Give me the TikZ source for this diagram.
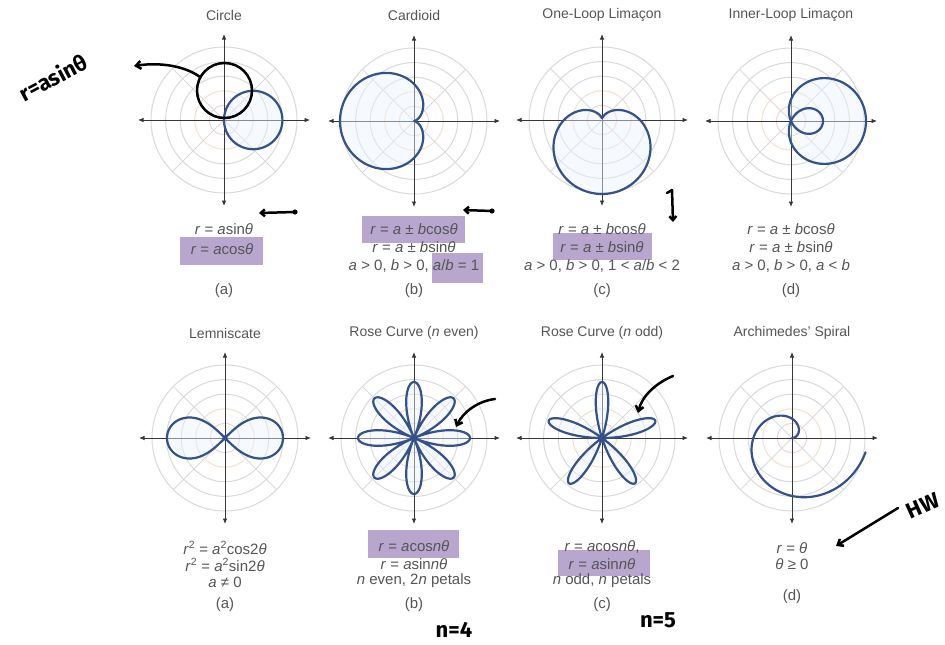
\documentclass[tikz,border=0pt]{standalone}
\usepackage{fontspec}
\setmainfont{Liberation Sans}
\newfontfamily\handfont{Fira Sans}
\usetikzlibrary{arrows.meta}

\definecolor{curveblue}{RGB}{52,82,138}
\definecolor{petalfill}{RGB}{236,242,252}
\definecolor{gridgray}{RGB}{218,218,220}
\definecolor{gridpink}{RGB}{238,214,214}
\definecolor{gridpeach}{RGB}{240,226,208}
\definecolor{axisgray}{RGB}{55,55,55}
\definecolor{labelgray}{RGB}{85,85,85}
\definecolor{hilite}{RGB}{184,166,206}

\tikzset{
  polargrid/.pic={
    \draw[gridpink,line width=1] (0,0) circle[radius=14.6];
    \draw[gridpeach,line width=1] (0,0) circle[radius=29.2];
    \foreach \k in {3,4,5}
      \draw[gridgray,line width=1] (0,0) circle[radius=14.6*\k];
    \foreach \a in {45,135,225,315}
      \draw[gridgray,line width=1] (0,0) -- (\a:73);
    \draw[axisgray,line width=0.8,{Latex[length=5.5pt,width=4.5pt]}-{Latex[length=5.5pt,width=4.5pt]}] (-86,0) -- (86,0);
    \draw[axisgray,line width=0.8,{Latex[length=5.5pt,width=4.5pt]}-{Latex[length=5.5pt,width=4.5pt]}] (0,-86) -- (0,86);
  },
  curve/.style={curveblue,line width=2.2,line join=round,fill=petalfill,fill opacity=0.45,draw opacity=1},
  openCurve/.style={curveblue,line width=2.2,line join=round,line cap=round},
  title/.style={text=labelgray,font=\fontsize{14}{16}\selectfont,inner sep=0},
  eqn/.style={text=labelgray,font=\fontsize{15}{17}\selectfont,inner sep=0},
  mark box/.style={fill=hilite,draw=none},
  ink/.style={black,line width=2.5,line cap=round,line join=round},
  inktext/.style={text=black,font=\fontsize{22}{22}\handfont\bfseries,inner sep=0},
  barb/.style={-{Straight Barb[length=5pt,width=8pt]}},
}

\begin{document}
\begin{tikzpicture}[x=1pt,y=-1pt]
\useasboundingbox (0,0) rectangle (945,645);
\fill[white] (0,0) rectangle (945,645);

% ---------- top row: circle, cardioid, limaçons ----------
\begin{scope}[shift={(224,120)},yscale=-1]
  \pic {polargrid};
  \draw[curve] plot[domain=0:180,samples=180,smooth] (\x:{58.4*cos(\x)}) -- cycle;
\end{scope}

\begin{scope}[shift={(414,121)},yscale=-1]
  \pic {polargrid};
  \draw[curve] plot[domain=0:360,samples=240,smooth] (\x:{37*(1-cos(\x))}) -- cycle;
\end{scope}

\begin{scope}[shift={(602,120)},yscale=-1]
  \pic {polargrid};
  \draw[curve] plot[domain=0:360,samples=240,smooth] (\x:{38-36*sin(\x)}) -- cycle;
\end{scope}

\begin{scope}[shift={(791,121)},yscale=-1]
  \pic {polargrid};
  \draw[curve] plot[domain=0:360,samples=300,smooth] (\x:{21.5+53.5*cos(\x)}) -- cycle;
\end{scope}

% ---------- bottom row: lemniscate, roses, spiral ----------
\begin{scope}[shift={(225,438)},yscale=-1]
  \pic {polargrid};
  \draw[curve] plot[domain=0:360,samples=240,smooth]
    ({58*cos(\x)/(1+sin(\x)*sin(\x))},{58*sin(\x)*cos(\x)/(1+sin(\x)*sin(\x))}) -- cycle;
  \fill[curveblue] (0,0) circle[radius=2.6];
\end{scope}

\begin{scope}[shift={(414,438)},yscale=-1]
  \pic {polargrid};
  \draw[curve] plot[domain=0:360,samples=480,smooth] (\x:{56*cos(4*\x)}) -- cycle;
  \fill[curveblue] (0,0) circle[radius=3];
\end{scope}

\begin{scope}[shift={(602,438)},yscale=-1]
  \pic {polargrid};
  \draw[curve] plot[domain=0:180,samples=361,smooth] (\x:{56*sin(5*\x)}) -- cycle;
  \fill[curveblue] (0,0) circle[radius=3];
\end{scope}

\begin{scope}[shift={(792,438)},yscale=-1]
  \pic {polargrid};
  \draw[openCurve] plot[domain=0:349,samples=240,smooth] (\x:{12.3*\x*pi/180});
\end{scope}

% ---------- highlighter marks ----------
\fill[mark box] (180,237) rectangle (263,265);
\fill[mark box] (362,216) rectangle (465,243);
\fill[mark box] (432,253) rectangle (483,283);
\fill[mark box] (553,233) rectangle (652,260);
\fill[mark box] (368,530) rectangle (459,558);
\fill[mark box] (558,550) rectangle (650,576);

% ---------- titles ----------
\node[title] (t1) at (224,15) {Circle};
\node[title] (t2) at (414,15) {Cardioid};
\node[title] (t3) at (602,15) {One-Loop Limaçon};
\node[title] (t4) at (791,15) {Inner-Loop Limaçon};
\node[title] (t5) at (225,333) {Lemniscate};
\node[title] (t6) at (414,333) {Rose Curve (\textit{n} even)};
\node[title] (t7) at (602,333) {Rose Curve (\textit{n} odd)};
\node[title] (t8) at (792,333) {Archimedes' Spiral};

% ---------- equations, top row ----------
\node[eqn] (e11) at (224,229) {\textit{r} = \textit{a}sin\textit{θ}};
\node[eqn] (e12) at (222,249) {\textit{r} = \textit{a}cos\textit{θ}};
\node[eqn] (l1) at (224,291) {(a)};

\node[eqn] (e21) at (414,229) {\textit{r} = \textit{a} ± \textit{b}cos\textit{θ}};
\node[eqn] (e22) at (414,247) {\textit{r} = \textit{a} ± \textit{b}sin\textit{θ}};
\node[eqn] (e23) at (414,266) {\textit{a} > 0, \textit{b} > 0, \textit{a}/\textit{b} = 1};
\node[eqn] (l2) at (414,291) {(b)};

\node[eqn] (e31) at (602,229) {\textit{r} = \textit{a} ± \textit{b}cos\textit{θ}};
\node[eqn] (e32) at (602,247) {\textit{r} = \textit{a} ± \textit{b}sin\textit{θ}};
\node[eqn] (e33) at (602,266) {\textit{a} > 0, \textit{b} > 0, 1 < \textit{a}/\textit{b} < 2};
\node[eqn] (l3) at (602,291) {(c)};

\node[eqn] (e41) at (791,229) {\textit{r} = \textit{a} ± \textit{b}cos\textit{θ}};
\node[eqn] (e42) at (791,247) {\textit{r} = \textit{a} ± \textit{b}sin\textit{θ}};
\node[eqn] (e43) at (791,266) {\textit{a} > 0, \textit{b} > 0, \textit{a} < \textit{b}};
\node[eqn] (l4) at (791,291) {(d)};

% ---------- equations, bottom row ----------
\node[eqn] (e51) at (225,548) {\textit{r}\textsuperscript{2} = \textit{a}\textsuperscript{2}cos2\textit{θ}};
\node[eqn] (e52) at (225,565) {\textit{r}\textsuperscript{2} = \textit{a}\textsuperscript{2}sin2\textit{θ}};
\node[eqn] (e53) at (225,582) {\textit{a} ≠ 0};
\node[eqn] (l5) at (225,605) {(a)};

\node[eqn] (e61) at (414,546) {\textit{r} = \textit{a}cos\textit{nθ}};
\node[eqn] (e62) at (414,564) {\textit{r} = \textit{a}sin\textit{nθ}};
\node[eqn] (e63) at (414,581) {\textit{n} even, 2\textit{n} petals};
\node[eqn] (l6) at (414,605) {(b)};

\node[eqn] (e71) at (602,547) {\textit{r} = \textit{a}cos\textit{nθ},};
\node[eqn] (e72) at (602,564) {\textit{r} = \textit{a}sin\textit{nθ}};
\node[eqn] (e73) at (602,581) {\textit{n} odd, \textit{n} petals};
\node[eqn] (l7) at (602,605) {(c)};

\node[eqn] (e81) at (792,548) {\textit{r} = \textit{θ}};
\node[eqn] (e82) at (792,564) {\textit{θ} ≥ 0};
\node[eqn] (l8) at (792,597) {(d)};

% ---------- pen annotations ----------
\draw[ink] (224.5,90.5) circle[radius=27.5];
\coordinate (circL) at (200,77);
\coordinate (noteTip) at (134,66);
\draw[ink,barb] (circL) .. controls (185,66) and (160,62) .. (noteTip);
\node[inktext,rotate=28] (note1) at (53,77) {r=asinθ};

\coordinate (da1) at (295,212);
\coordinate (da2) at (259,213);
\draw[ink,-{Straight Barb[length=4pt,width=7pt]}] (da1) -- (da2);
\fill (da1) circle[radius=2.6];

\coordinate (db1) at (492,211);
\coordinate (db2) at (463,210);
\draw[ink,-{Straight Barb[length=4pt,width=7pt]}] (db1) -- (db2);
\fill (db1) circle[radius=2.6];

\coordinate (dc1) at (667,193);
\coordinate (dc2) at (673,222);
\draw[ink,-{Straight Barb[length=4pt,width=7pt]}] (dc1) -- (672,190) -- (dc2);

\coordinate (ra1) at (495,399);
\coordinate (ra2) at (456,427);
\draw[ink,barb] (ra1) .. controls (478,401) and (463,412) .. (ra2);

\coordinate (rb1) at (673,376);
\coordinate (rb2) at (638,413);
\draw[ink,barb] (rb1) .. controls (656,383) and (642,396) .. (rb2);

\coordinate (hw1) at (898,508);
\coordinate (hw2) at (836,546);
\draw[ink,barb] (hw1) -- (hw2);
\node[inktext,rotate=24] (note2) at (923,506) {HW};

\node[inktext] (note3) at (454,630) {n=4};
\node[inktext] (note4) at (658,620) {n=5};
\end{tikzpicture}
\end{document}
